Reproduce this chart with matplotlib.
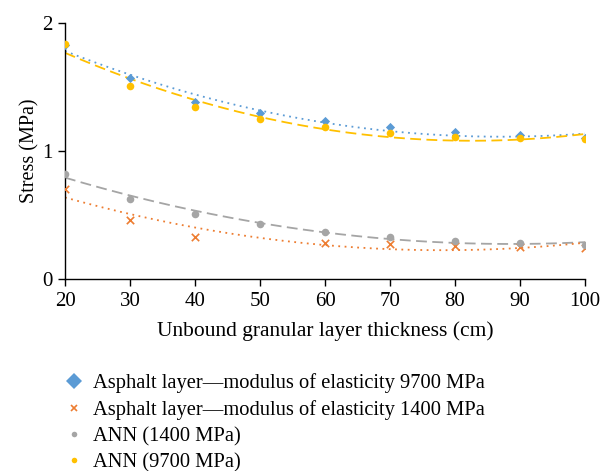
import numpy as np
import matplotlib
matplotlib.use("Agg")
import matplotlib.pyplot as plt
from matplotlib.lines import Line2D

# datos (nan = punto no visible)
espesor = [20, 30, 40, 50, 60, 70, 80, 90, 100]
asfalto_9700 = [1.83, 1.573, 1.38, 1.30, 1.234, 1.188, 1.15, 1.125, 1.10]
asfalto_1400 = [0.706, 0.459, 0.326, np.nan, 0.279, 0.271, 0.258, 0.252, 0.245]
ann_1400 = [0.823, 0.627, 0.51, 0.43, 0.37, 0.326, 0.30, 0.281, 0.268]
ann_9700 = [1.833, 1.51, 1.346, 1.252, 1.185, 1.143, 1.112, 1.10, 1.096]

AZUL = "#5B9BD5"
NARANJA = "#ED7D31"
GRIS = "#A5A5A5"
AMARILLO = "#FFC000"

plt.rcParams["font.family"] = ["Liberation Serif", "DejaVu Serif"]

fig = plt.figure(figsize=(6.01, 4.71), dpi=100)
ax = fig.add_axes([65 / 601, 1 - 279 / 471, 520 / 601, 256 / 471])

x = np.array(espesor, dtype=float)
xs = np.linspace(20, 100, 200)

def tendencia(y):
    y = np.array(y, dtype=float)
    ok = ~np.isnan(y)
    c = np.polyfit(x[ok], y[ok], 2)
    return np.polyval(c, xs)

# lineas de tendencia (polinomio grado 2)
ax.plot(xs, tendencia(asfalto_9700), color=AZUL, lw=1.3, ls=(0, (1, 2.5)))
ax.plot(xs, tendencia(ann_9700), color=AMARILLO, lw=1.3, ls=(0, (6, 3)))
ax.plot(xs, tendencia(ann_1400), color=GRIS, lw=1.3, ls=(0, (6, 3)))
ax.plot(xs, tendencia(asfalto_1400), color=NARANJA, lw=1.3, ls=(0, (1, 2.5)))

# puntos
ax.scatter(x, asfalto_9700, marker="D", s=22, color=AZUL, zorder=3, linewidths=0)
ax.scatter(x, asfalto_1400, marker="x", s=28, color=NARANJA, zorder=3, linewidths=1.2)
ax.scatter(x, ann_1400, marker="o", s=30, color=GRIS, zorder=3, linewidths=0)
ax.scatter(x, ann_9700, marker="o", s=30, color=AMARILLO, zorder=4, linewidths=0)

ax.set_xlim(20, 100)
ax.set_ylim(0, 2)
ax.set_xticks(range(20, 101, 10))
ax.set_yticks([0, 1, 2])
ax.spines["top"].set_visible(False)
ax.spines["right"].set_visible(False)
for s in ["left", "bottom"]:
    ax.spines[s].set_linewidth(1.0)
    ax.spines[s].set_color("black")
ax.tick_params(direction="out", length=5, width=1.0, labelsize=15, pad=4)
ax.set_xlabel("Unbound granular layer thickness (cm)", fontsize=15.5, labelpad=8)
ax.set_ylabel("Stress (MPa)", fontsize=14.5, labelpad=2)

handles = [
    Line2D([], [], ls="", marker="D", ms=8, color=AZUL, mew=0),
    Line2D([], [], ls="", marker="x", ms=5, color=NARANJA, mew=1.2),
    Line2D([], [], ls="", marker="o", ms=4, color=GRIS, mew=0),
    Line2D([], [], ls="", marker="o", ms=4, color=AMARILLO, mew=0),
]
labels = [
    "Asphalt layer\u2014modulus of elasticity 9700 MPa",
    "Asphalt layer\u2014modulus of elasticity 1400 MPa",
    "ANN (1400 MPa)",
    "ANN (9700 MPa)",
]
fig.legend(handles, labels, loc="upper left", bbox_to_anchor=(55 / 601, 1 - 365 / 471),
           frameon=False, fontsize=14.8, handlelength=1.0, handletextpad=0.45,
           labelspacing=0.33, borderaxespad=0)

fig.savefig("out.png", dpi=100)
